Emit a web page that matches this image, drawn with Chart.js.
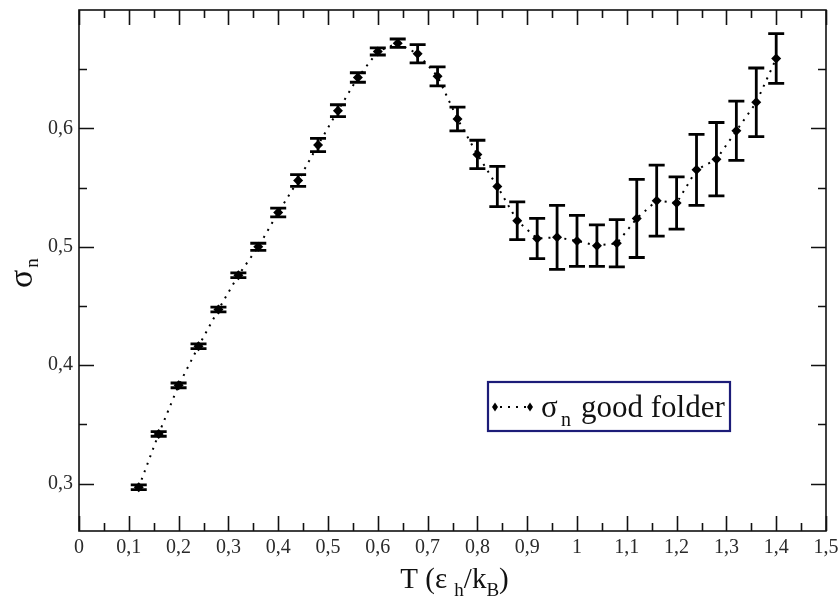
<!DOCTYPE html>
<html>
<head>
<meta charset="utf-8">
<script src="https://cdn.jsdelivr.net/npm/chart.js@4.4.1/dist/chart.umd.min.js"></script>
<style>
  body { margin: 0; background: #fff; }
  #wrap { width: 839px; height: 603px; }
</style>
</head>
<body>
<div id="wrap"><canvas id="sigmaChart"></canvas></div>
<script>
// temperature T (eps_h / k_B)
const temps = [0.12, 0.16, 0.20, 0.24, 0.28, 0.32, 0.36, 0.40, 0.44, 0.48, 0.52,
               0.56, 0.60, 0.64, 0.68, 0.72, 0.76, 0.80, 0.84, 0.88, 0.92, 0.96,
               1.00, 1.04, 1.08, 1.12, 1.16, 1.20, 1.24, 1.28, 1.32, 1.36, 1.40];
// sigma_n, good folder
const sigmaN = [0.297, 0.342, 0.383, 0.416, 0.447, 0.476, 0.500, 0.529, 0.556, 0.586, 0.615,
                0.643, 0.665, 0.672, 0.663, 0.644, 0.608, 0.578, 0.551, 0.522, 0.507, 0.508,
                0.505, 0.501, 0.503, 0.524, 0.539, 0.537, 0.565, 0.574, 0.598, 0.622, 0.659];
// error bar half heights
const sigmaErr = [0.002, 0.002, 0.002, 0.002, 0.002, 0.002, 0.003, 0.0037, 0.005, 0.0056, 0.005,
                  0.004, 0.003, 0.0035, 0.0077, 0.008, 0.010, 0.012, 0.017, 0.016, 0.017, 0.027,
                  0.0215, 0.0176, 0.020, 0.033, 0.030, 0.022, 0.030, 0.031, 0.025, 0.029, 0.021];

const xTicks = [0, 0.1, 0.2, 0.3, 0.4, 0.5, 0.6, 0.7, 0.8, 0.9, 1, 1.1, 1.2, 1.3, 1.4, 1.5];
const xMinor = [0.05, 0.15, 0.25, 0.35, 0.45, 0.55, 0.65, 0.75, 0.85, 0.95, 1.05, 1.15, 1.25, 1.35, 1.45];
const yTicks = [0.3, 0.4, 0.5, 0.6];
const yMinor = [0.35, 0.45, 0.55, 0.65];

const SERIF = "'Liberation Serif', 'DejaVu Serif', serif";
const fmt = v => String(+v.toFixed(2)).replace('.', ',');

// error bars, drawn from the data through the scales
const errorBars = {
    id: 'errorBars',
    beforeDatasetsDraw(chart) {
        const ctx = chart.ctx;
        const xs = chart.scales.x, ys = chart.scales.y;
        ctx.save();
        ctx.strokeStyle = '#000';
        ctx.lineWidth = 2.8;
        temps.forEach((t, i) => {
            const px = xs.getPixelForValue(t);
            const top = ys.getPixelForValue(sigmaN[i] + sigmaErr[i]);
            const bot = ys.getPixelForValue(sigmaN[i] - sigmaErr[i]);
            ctx.beginPath();
            ctx.moveTo(px, top); ctx.lineTo(px, bot);
            ctx.moveTo(px - 8, top); ctx.lineTo(px + 8, top);
            ctx.moveTo(px - 8, bot); ctx.lineTo(px + 8, bot);
            ctx.stroke();
        });
        ctx.restore();
    }
};

// box around plot with inward ticks on all four sides, axis titles and legend
const frame = {
    id: 'frame',
    afterDraw(chart) {
        const ctx = chart.ctx;
        const a = chart.chartArea;
        const xs = chart.scales.x, ys = chart.scales.y;
        ctx.save();
        ctx.strokeStyle = '#111';
        ctx.lineWidth = 1.6;
        ctx.strokeRect(a.left, a.top, a.right - a.left, a.bottom - a.top);

        ctx.beginPath();
        const xt = (vals, len) => vals.forEach(v => {
            const p = Math.round(xs.getPixelForValue(v)) + 0.5;
            ctx.moveTo(p, a.bottom); ctx.lineTo(p, a.bottom - len);
            ctx.moveTo(p, a.top); ctx.lineTo(p, a.top + len);
        });
        const yt = (vals, len) => vals.forEach(v => {
            const p = Math.round(ys.getPixelForValue(v)) + 0.5;
            ctx.moveTo(a.left, p); ctx.lineTo(a.left + len, p);
            ctx.moveTo(a.right, p); ctx.lineTo(a.right - len, p);
        });
        xt(xTicks, 15); xt(xMinor, 8);
        yt(yTicks, 15); yt(yMinor, 8);
        ctx.stroke();

        // x title: T (eps_h/k_B)
        ctx.fillStyle = '#111';
        ctx.textBaseline = 'alphabetic';
        const big = '29px ' + SERIF, small = '19px ' + SERIF;
        const parts = [['T (\u03b5 ', big, 0], ['h', small, 8], ['/k', big, 0], ['B', small, 8], [')', big, 0]];
        let w = 0;
        parts.forEach(p => { ctx.font = p[1]; w += ctx.measureText(p[0]).width; });
        let x = (a.left + a.right) / 2 - w / 2 + 2;
        parts.forEach(p => {
            ctx.font = p[1];
            ctx.fillText(p[0], x, 588 + p[2]);
            x += ctx.measureText(p[0]).width;
        });

        // y title: sigma_n, rotated
        ctx.save();
        ctx.translate(32, 288);
        ctx.rotate(-Math.PI / 2);
        ctx.font = '34px ' + SERIF;
        ctx.fillText('\u03c3', 0, 0);
        const sw = ctx.measureText('\u03c3').width;
        ctx.font = '19px ' + SERIF;
        ctx.fillText('n', sw + 2, 6);
        ctx.restore();

        // legend
        const lx = 488, ly = 382, lw = 242, lh = 49;
        ctx.fillStyle = '#fff';
        ctx.fillRect(lx, ly, lw, lh);
        ctx.strokeStyle = '#1c1c78';
        ctx.lineWidth = 2.2;
        ctx.strokeRect(lx, ly, lw, lh);
        const cy = ly + 25;
        ctx.strokeStyle = '#000';
        ctx.lineWidth = 2;
        ctx.setLineDash([2, 6]);
        ctx.beginPath(); ctx.moveTo(500, cy); ctx.lineTo(528, cy); ctx.stroke();
        ctx.setLineDash([]);
        ctx.fillStyle = '#000';
        [495, 530].forEach(dx => {
            ctx.beginPath();
            ctx.moveTo(dx, cy - 4.5); ctx.lineTo(dx + 3, cy); ctx.lineTo(dx, cy + 4.5); ctx.lineTo(dx - 3, cy);
            ctx.closePath(); ctx.fill();
        });
        ctx.fillStyle = '#111';
        ctx.font = '31px ' + SERIF;
        ctx.fillText('\u03c3', 541, ly + 35);
        ctx.font = '20px ' + SERIF;
        ctx.fillText('n', 561, ly + 44);
        ctx.font = '31px ' + SERIF;
        ctx.fillText('good folder', 581, ly + 35);
        ctx.restore();
    }
};

new Chart(document.getElementById('sigmaChart'), {
    type: 'line',
    data: {
        labels: temps,
        datasets: [{
            label: '\u03c3n good folder',
            data: temps.map((t, i) => ({ x: t, y: sigmaN[i] })),
            borderColor: '#000',
            borderWidth: 2,
            borderDash: [2, 6],
            tension: 0,
            pointStyle: 'rectRot',
            pointRadius: 5,
            pointBackgroundColor: '#000',
            pointBorderWidth: 0,
            fill: false
        }]
    },
    options: {
        responsive: true,
        maintainAspectRatio: false,
        animation: false,
        layout: { padding: { left: 0, top: 10, right: 13, bottom: 0 } },
        plugins: { legend: { display: false }, tooltip: { enabled: false } },
        scales: {
            x: {
                type: 'linear',
                min: 0, max: 1.5,
                grid: { display: false, drawTicks: false },
                border: { display: false },
                afterBuildTicks: s => { s.ticks = xTicks.map(v => ({ value: v })); },
                afterFit: s => { s.height = 72; s.paddingLeft = 0; s.paddingRight = 0; },
                ticks: {
                    padding: 5,
                    maxRotation: 0,
                    autoSkip: false,
                    color: '#2a2a2a',
                    font: { family: SERIF, size: 20 },
                    callback: fmt
                }
            },
            y: {
                min: 0.26, max: 0.7,
                grid: { display: false, drawTicks: false },
                border: { display: false },
                afterBuildTicks: s => { s.ticks = yTicks.map(v => ({ value: v })); },
                afterFit: s => { s.width = 79; s.paddingTop = 0; s.paddingBottom = 0; },
                ticks: {
                    padding: 6,
                    color: '#2a2a2a',
                    font: { family: SERIF, size: 20 },
                    callback: fmt
                }
            }
        }
    },
    plugins: [errorBars, frame]
});
</script>
</body>
</html>
